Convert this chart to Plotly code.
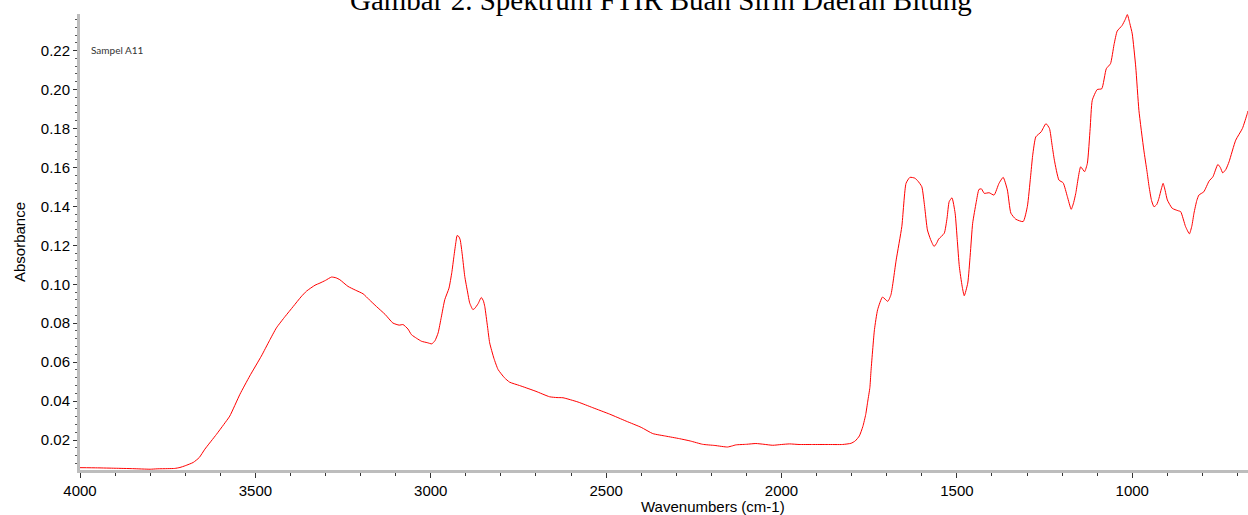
import plotly.graph_objects as go

wavenumber = [4000, 3950, 3900, 3850, 3800, 3780, 3750, 3730, 3715, 3700, 3677, 3660, 3644, 3611, 3590, 3573,
              3544, 3516, 3483, 3460, 3440, 3415, 3392, 3370, 3354, 3330, 3316, 3300, 3283, 3270, 3259, 3236,
              3215, 3193, 3175, 3155, 3130, 3108, 3090, 3079, 3065, 3055, 3040, 3026, 3010, 2997, 2988, 2979,
              2970, 2960, 2948, 2940, 2934, 2928, 2925, 2920, 2916, 2910, 2903, 2895, 2889, 2880, 2875, 2865,
              2856, 2850, 2846, 2838, 2832, 2820, 2808, 2790, 2775, 2747, 2728, 2700, 2661, 2640, 2623, 2580,
              2538, 2490, 2443, 2400, 2367, 2330, 2291, 2260, 2225, 2190, 2154, 2140, 2130, 2100, 2073, 2050,
              2025, 2000, 1977, 1950, 1911, 1870, 1826, 1802, 1790, 1778, 1768, 1760, 1754, 1748, 1745, 1735,
              1726, 1712, 1697, 1688, 1673, 1657, 1645, 1634, 1620, 1612, 1600, 1592, 1584, 1575, 1565, 1558,
              1552, 1536, 1528, 1522, 1514, 1505, 1499, 1493, 1485, 1479, 1469, 1462, 1455, 1445, 1437, 1430,
              1422, 1408, 1394, 1380, 1368, 1356, 1346, 1332, 1311, 1299, 1290, 1284, 1275, 1260, 1246, 1236,
              1229, 1222, 1209, 1197, 1185, 1174, 1167, 1161, 1147, 1136, 1128, 1120, 1114, 1100, 1087, 1074,
              1062, 1052, 1043, 1029, 1020, 1014, 1007, 1000, 990, 981, 967, 958, 952, 945, 938, 930,
              924, 917, 912, 906, 900, 886, 870, 862, 848, 837, 830, 824, 816, 810, 796, 781,
              770, 756, 749, 742, 733, 724, 705, 686, 672, 670]

absorbance = [0.0058, 0.0057, 0.0055, 0.0053, 0.0050, 0.0052, 0.0053, 0.0054, 0.0059, 0.0068, 0.0085, 0.0110, 0.0153, 0.0229, 0.0280, 0.0323,
              0.0435, 0.0529, 0.0631, 0.0710, 0.0776, 0.0835, 0.0886, 0.0935, 0.0965, 0.0995, 0.1006, 0.1020, 0.1037, 0.1033, 0.1023, 0.0989,
              0.0970, 0.0951, 0.0920, 0.0886, 0.0845, 0.0801, 0.0790, 0.0793, 0.0770, 0.0741, 0.0722, 0.0707, 0.0700, 0.0694, 0.0710, 0.0750,
              0.0830, 0.0921, 0.0980, 0.1060, 0.1142, 0.1220, 0.1250, 0.1245, 0.1228, 0.1150, 0.1040, 0.0960, 0.0904, 0.0870, 0.0875, 0.0900,
              0.0932, 0.0915, 0.0886, 0.0780, 0.0699, 0.0620, 0.0562, 0.0520, 0.0497, 0.0480, 0.0468, 0.0450, 0.0422, 0.0418, 0.0417, 0.0395,
              0.0366, 0.0333, 0.0297, 0.0265, 0.0233, 0.0220, 0.0207, 0.0195, 0.0178, 0.0172, 0.0164, 0.0170, 0.0175, 0.0178, 0.0182, 0.0178,
              0.0173, 0.0177, 0.0180, 0.0177, 0.0177, 0.0177, 0.0177, 0.0183, 0.0195, 0.0221, 0.0270, 0.0330, 0.0400, 0.0470, 0.0550, 0.0767,
              0.0869, 0.0934, 0.0912, 0.0946, 0.1125, 0.1296, 0.1518, 0.1549, 0.1545, 0.1532, 0.1501, 0.1400, 0.1279, 0.1230, 0.1194, 0.1210,
              0.1232, 0.1262, 0.1340, 0.1424, 0.1444, 0.1365, 0.1230, 0.1091, 0.0990, 0.0941, 0.1006, 0.1150, 0.1313, 0.1420, 0.1487, 0.1490,
              0.1467, 0.1470, 0.1458, 0.1518, 0.1549, 0.1484, 0.1365, 0.1334, 0.1322, 0.1400, 0.1550, 0.1660, 0.1757, 0.1782, 0.1825, 0.1800,
              0.1720, 0.1637, 0.1535, 0.1521, 0.1450, 0.1385, 0.1420, 0.1467, 0.1603, 0.1578, 0.1621, 0.1800, 0.1945, 0.2000, 0.2004, 0.2107,
              0.2133, 0.2230, 0.2300, 0.2329, 0.2360, 0.2385, 0.2340, 0.2286, 0.2115, 0.1893, 0.1689, 0.1580, 0.1501, 0.1430, 0.1398, 0.1410,
              0.1441, 0.1490, 0.1518, 0.1480, 0.1433, 0.1390, 0.1378, 0.1373, 0.1296, 0.1259, 0.1300, 0.1365, 0.1430, 0.1458, 0.1475, 0.1530,
              0.1552, 0.1615, 0.1600, 0.1572, 0.1590, 0.1629, 0.1740, 0.1800, 0.1877, 0.1890]

x_ticks = [4000, 3500, 3000, 2500, 2000, 1500, 1000]
y_ticks = [0.02, 0.04, 0.06, 0.08, 0.10, 0.12, 0.14, 0.16, 0.18, 0.20, 0.22]

title_text = "Gambar 2. Spektrum FTIR Buah Sirih Daerah Bitung"
sample_label = "Sampel A11"
x_title = "Wavenumbers (cm-1)"
y_title = "Absorbance"

fig = go.Figure()
fig.add_trace(go.Scatter(x=wavenumber, y=absorbance, mode="lines",
                         line=dict(color="#ff0000", width=1, shape="spline", smoothing=0.5),
                         showlegend=False, hoverinfo="x+y"))

axis_font = dict(family="Liberation Sans, Arial, sans-serif", size=15, color="#000000")

fig.update_xaxes(range=[4000, 670], tickvals=x_ticks, ticktext=[str(v) for v in x_ticks],
                 showline=True, linecolor="#bdbdbd", linewidth=3, ticks="outside", ticklen=5,
                 tickcolor="#333333", tickwidth=1, tickfont=axis_font, showgrid=False, zeroline=False,
                 minor=dict(dtick=100, ticks="outside", ticklen=3, tickcolor="#333333", tickwidth=1, showgrid=False))
fig.update_yaxes(range=[0.0046, 0.2388], tickvals=y_ticks, ticktext=[f"{v:.2f}" for v in y_ticks],
                 showline=True, linecolor="#bdbdbd", linewidth=3, ticks="outside", ticklen=4,
                 tickcolor="#333333", tickwidth=1, tickfont=axis_font, showgrid=False, zeroline=False,
                 title=dict(text=y_title, font=dict(family="Liberation Sans, Arial, sans-serif", size=15, color="#000000"), standoff=12),
                 minor=dict(dtick=0.004, ticks="outside", ticklen=2, tickcolor="#555555", tickwidth=1, showgrid=False))

fig.add_annotation(text=title_text, xref="paper", yref="paper", x=0.4974, y=1.0307,
                   xanchor="center", yanchor="middle", showarrow=False,
                   font=dict(family="Liberation Serif, Times New Roman, serif", size=29, color="#000000"))
fig.add_annotation(text=x_title, xref="paper", yref="paper", x=0.542, y=-0.0811,
                   xanchor="center", yanchor="middle", showarrow=False,
                   font=dict(family="Liberation Sans, Arial, sans-serif", size=15, color="#000000"))
fig.add_annotation(text=sample_label, xref="paper", yref="paper", x=0.0077, y=0.9211,
                   xanchor="left", yanchor="middle", showarrow=False,
                   font=dict(family="Lato, Open Sans, sans-serif", size=10, color="#333333"))

fig.update_layout(width=1248, height=515, margin=dict(l=80, r=0, t=14, b=45),
                  paper_bgcolor="white", plot_bgcolor="white", showlegend=False)

fig.write_html("out.html")
